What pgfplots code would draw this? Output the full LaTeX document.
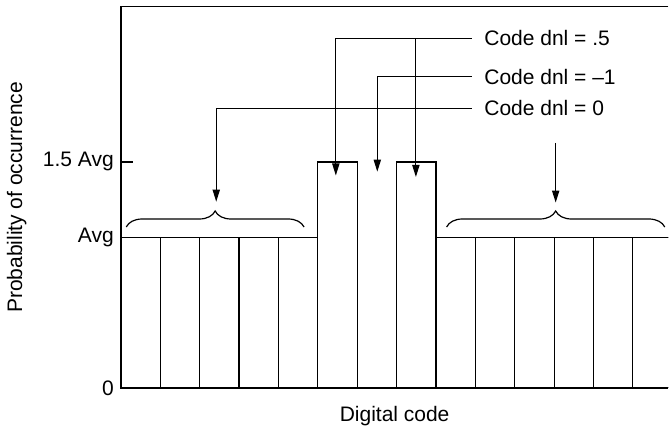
\documentclass[border=0pt]{standalone}
\usepackage{fontspec}
\setmainfont{Liberation Sans}
\usepackage{pgfplots}
\pgfplotsset{compat=1.18}
\usetikzlibrary{arrows.meta, decorations.pathreplacing}

\begin{document}
\fontsize{10.5}{12}\selectfont
\begin{tikzpicture}[>={Triangle[length=6pt,width=3.6pt]}]
\begin{axis}[
  x=19.7pt, y=75.35pt,
  xmin=0, xmax=13.9, ymin=0, ymax=2.53,
  axis line style={draw=none},
  xtick=\empty,
  ytick={0,1,1.5}, yticklabels={0, Avg, 1.5 Avg},
  ytick pos=left, ytick align=inside, major tick length=6pt,
  ytick style={black, line width=0.6pt},
  yticklabel style={font=\fontsize{10.5}{12}\selectfont, inner sep=0pt, xshift=-3.4pt},
  xlabel={Digital code}, ylabel={Probability of occurrence},
  label style={font=\fontsize{10.5}{12}\selectfont},
  xlabel style={yshift=-5.5pt},
  ylabel style={yshift=4.5pt},
  clip mode=individual,
]
\addplot[ybar interval, fill=white, draw=black, line width=0.6pt]
  coordinates {(0,1)(1,1)(2,1)(3,1)(4,1)(5,1.5)(6,0)(7,1.5)
               (8,1)(9,1)(10,1)(11,1)(12,1)(13,1)(14,1)};
% frame: left, bottom, top
\draw[line width=0.7pt] (rel axis cs:1,1) -- (rel axis cs:0,1) -- (rel axis cs:0,0) -- (rel axis cs:1,0);
% a little white space above the frame
\path (rel axis cs:0,1) ++(0,3.4pt);
% braces
\draw[line width=0.6pt, decorate, decoration={brace, amplitude=8pt}]
  (axis cs:0.135,1.068) -- (axis cs:4.65,1.068);
\draw[line width=0.6pt, decorate, decoration={brace, amplitude=8pt}]
  (axis cs:8.27,1.068) -- (axis cs:13.81,1.068);
% leader lines
\draw[line width=0.6pt, ->] (axis cs:8.91,2.322) -- (axis cs:5.457,2.322) -- (axis cs:5.457,1.41);
\draw[line width=0.6pt, ->] (axis cs:7.49,2.322) -- (axis cs:7.49,1.40);
\draw[line width=0.6pt, ->] (axis cs:8.91,2.066) -- (axis cs:6.51,2.066) -- (axis cs:6.51,1.435);
\draw[line width=0.6pt, ->] (axis cs:8.91,1.856) -- (axis cs:2.42,1.856) -- (axis cs:2.42,1.236);
\draw[line width=0.6pt, ->] (axis cs:11.04,1.627) -- (axis cs:11.04,1.23);
\node[anchor=west, inner sep=0pt] at (axis cs:9.22,2.322) {Code dnl = .5};
\node[anchor=west, inner sep=0pt] at (axis cs:9.22,2.066) {Code dnl = \textendash1};
\node[anchor=west, inner sep=0pt] at (axis cs:9.22,1.856) {Code dnl = 0};
\end{axis}
\end{tikzpicture}
\end{document}
